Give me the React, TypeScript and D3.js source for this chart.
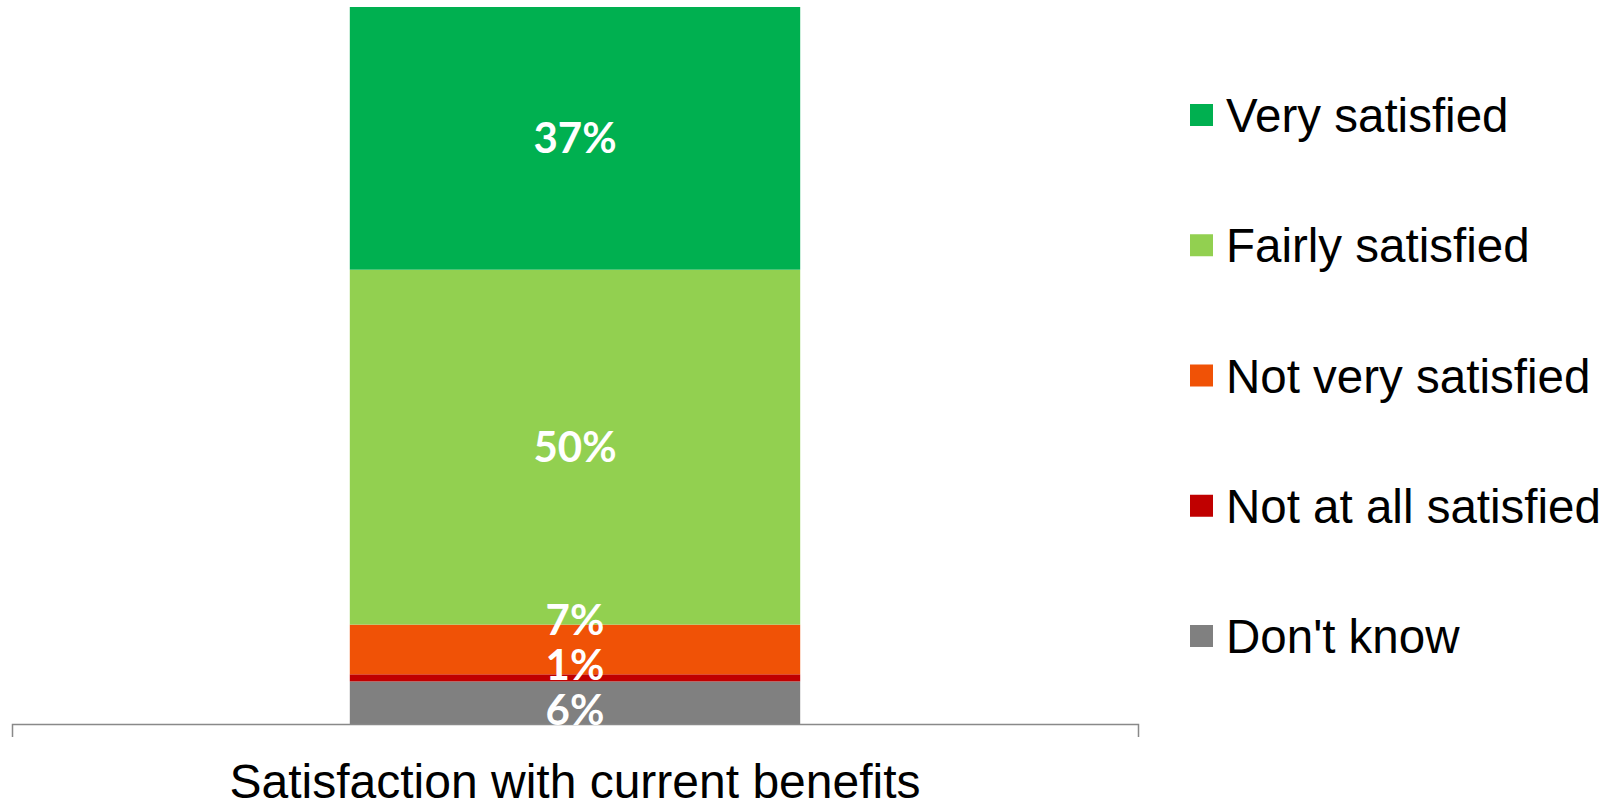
import React, { useEffect, useRef } from "react";
import * as d3 from "d3";

const categories = ["Satisfaction with current benefits"];
const seriesNames = ["Don't know", "Not at all satisfied", "Not very satisfied", "Fairly satisfied", "Very satisfied"];
const seriesValues = [6, 1, 7, 50, 37];
const seriesColors = ["#808080", "#C00000", "#F05206", "#92D050", "#00B050"];
const legendOrder = ["Very satisfied", "Fairly satisfied", "Not very satisfied", "Not at all satisfied", "Don't know"];

const W = 1615;
const H = 800;

export default function App() {
  const axisRef = useRef<SVGGElement>(null);

  useEffect(() => {
    document.body.style.margin = "0";
  }, []);

  const total = d3.sum(seriesValues);
  const x = d3.scaleBand<string>().domain(categories).range([12, 1138]).paddingInner(0).paddingOuter(0.75);
  const y = d3.scaleLinear().domain([0, total]).range([724, 7]);

  const stackData = [Object.fromEntries(seriesNames.map((s, i) => [s, seriesValues[i]]))];
  const stack = d3.stack<any>().keys(seriesNames)(stackData as any);

  // label placement with simple dodge from bottom up
  const labelGap = 45;
  const labelHalf = 14;
  const labelYs: number[] = [];
  stack.forEach((layer, i) => {
    const seg = layer[0];
    const ideal = (y(seg[0]) + y(seg[1])) / 2;
    if (i === 0) {
      labelYs.push(Math.max(ideal, y(0) - labelHalf));
    } else {
      labelYs.push(Math.min(ideal, labelYs[i - 1] - labelGap));
    }
  });

  const legendY = d3.scalePoint<string>().domain(legendOrder).range([115, 636]);

  useEffect(() => {
    if (!axisRef.current) return;
    const g = d3.select(axisRef.current);
    g.selectAll("*").remove();
    const axis = d3.axisBottom(x).tickSizeInner(0).tickSizeOuter(13).tickPadding(0);
    g.call(axis as any);
    g.select(".domain").attr("stroke", "#898989").attr("stroke-width", 1.5);
    g.selectAll(".tick line").remove();
    g.selectAll(".tick text")
      .attr("y", 74)
      .attr("dy", "0")
      .attr("fill", "#000")
      .style("font-family", "'Liberation Sans', Arial, sans-serif")
      .style("font-size", "48px");
  }, []);

  const cat = categories[0];
  const bx = x(cat)!;
  const bw = x.bandwidth();

  return (
    <svg width={W} height={H} style={{ display: "block", background: "#fff" }}>
      <g>
        {stack.map((layer, i) => (
          <rect
            key={seriesNames[i]}
            x={bx}
            width={bw}
            y={y(layer[0][1])}
            height={y(layer[0][0]) - y(layer[0][1])}
            fill={seriesColors[i]}
          />
        ))}
      </g>
      <g ref={axisRef} transform={`translate(0,${y(0)})`} />
      <g>
        {stack.map((layer, i) => (
          <text
            key={seriesNames[i]}
            x={bx + bw / 2}
            y={labelYs[i]}
            dy="0.36em"
            textAnchor="middle"
            fill="#fff"
            style={{ fontFamily: "Lato, 'Open Sans', sans-serif", fontWeight: 700, fontSize: 42 }}
          >
            {`${seriesValues[i]}%`}
          </text>
        ))}
      </g>
      <g>
        {legendOrder.map((name) => {
          const idx = seriesNames.indexOf(name);
          const cy = legendY(name)!;
          return (
            <g key={name}>
              <rect x={1190} y={cy - 11} width={23} height={22} fill={seriesColors[idx]} />
              <text
                x={1226}
                y={cy}
                dy="0.358em"
                fill="#000"
                style={{ fontFamily: "'Liberation Sans', Arial, sans-serif", fontSize: 47.5 }}
              >
                {name}
              </text>
            </g>
          );
        })}
      </g>
    </svg>
  );
}
